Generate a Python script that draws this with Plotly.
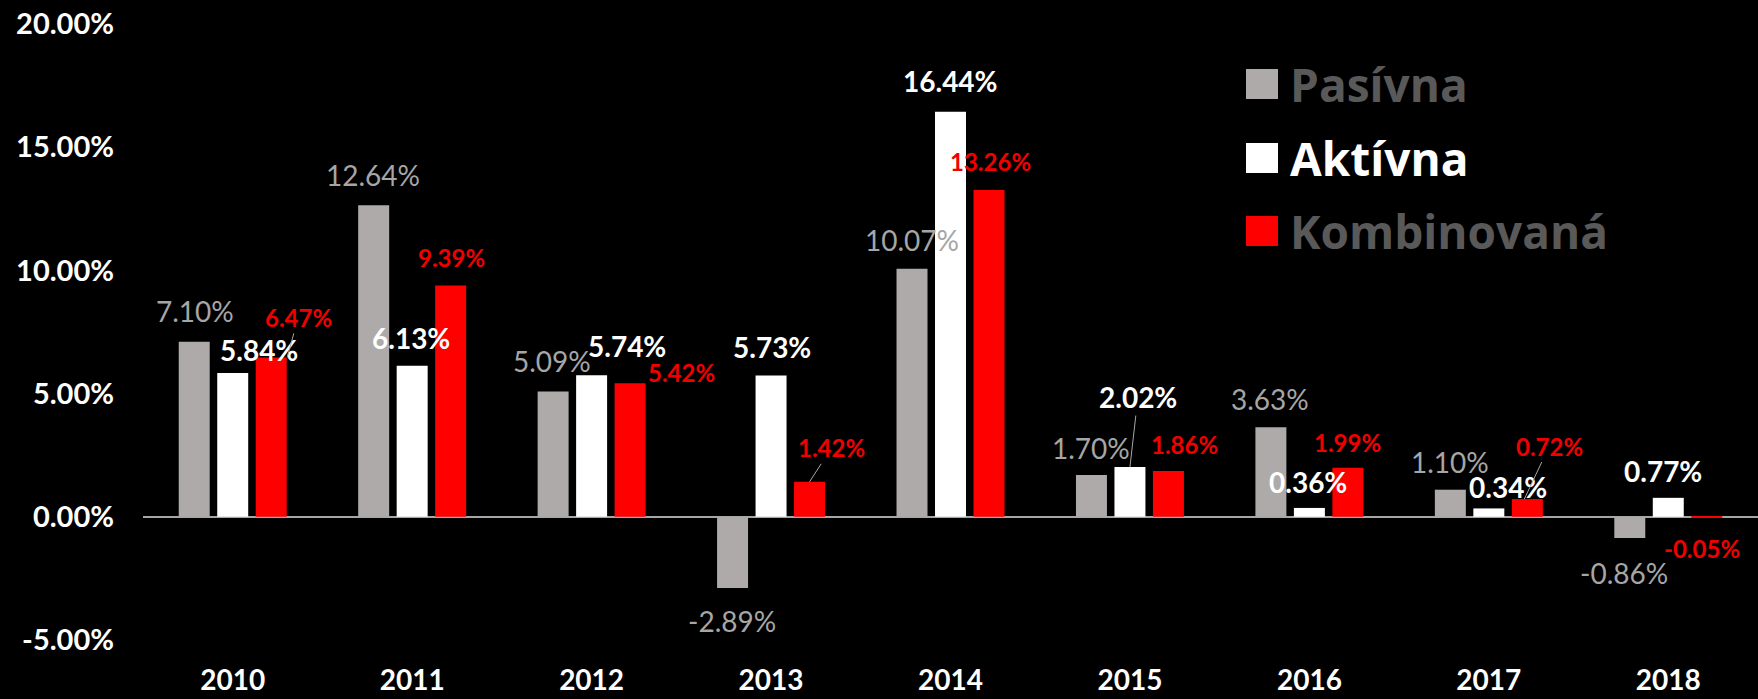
import plotly.graph_objects as go

# ---------------- data ----------------
years = ["2010", "2011", "2012", "2013", "2014", "2015", "2016", "2017", "2018"]
series_names = ["Pasívna", "Aktívna", "Kombinovaná"]
pasivna = [7.10, 12.64, 5.09, -2.89, 10.07, 1.70, 3.63, 1.10, -0.86]
aktivna = [5.84, 6.13, 5.74, 5.73, 16.44, 2.02, 0.36, 0.34, 0.77]
kombinovana = [6.47, 9.39, 5.42, 1.42, 13.26, 1.86, 1.99, 0.72, -0.05]
y_tick_values = [-5, 0, 5, 10, 15, 20]
y_tick_labels = ["-5.00%", "0.00%", "5.00%", "10.00%", "15.00%", "20.00%"]

# ---------------- styles ----------------
FONT = "Lato"
LEGEND_FONT = "Open Sans"
bar_colors = ["#AEAAAA", "#FFFFFF", "#FF0000"]
label_colors = ["#A6A6A6", "#FFFFFF", "#F20000"]
label_sizes = [28, 28, 24]
label_weights = ["normal", "bold", "bold"]
legend_text_colors = ["#595959", "#FFFFFF", "#595959"]

W, H = 1758, 699
ML, MR, MT, MB = 143, 0, 24, 59
PW, PH = W - ML - MR, H - MT - MB
BARGAP, BARGROUPGAP = 0.3565, 0.195
slot = PW / len(years) * (1 - BARGAP) / 3
offsets = [-slot, 0, slot]

# per-label placement: (dx, dy) pixel shift of label centre from bar end (dy up)
placement = [
    [(1, 31), (-1, 30), (-1, 30), (-1, -33), (0, 29), (0, 27), (-1, 28), (0, 28), (-6, -35)],
    [(26, 23), (-1, 28), (35, 29), (1, 29), (0, 31), None, (-1, 26), (19, 21), (-5, 27)],
    [None, (1, 28), (51, 11), None, (2, 29), (16, 26), (0, 25), None, (-5, -30)],
]
# leader-line labels: (series, index) -> (tip dx, text ax, text ay)
leaders = {
    (1, 5): (0, 8, -70),
    (2, 0): (16, 11, -40),
    (2, 3): (0, 22, -34),
    (2, 7): (-3, 25, -53),
}

def px_x(x):
    return (x - ML) / PW

def px_y(y):
    return (H - MB - y) / PH

series_values = [pasivna, aktivna, kombinovana]

fig = go.Figure()
for s, (name, vals) in enumerate(zip(series_names, series_values)):
    fig.add_trace(go.Bar(
        x=years, y=vals, name=name,
        marker=dict(color=bar_colors[s], line=dict(width=0)),
        showlegend=False, hoverinfo="skip",
    ))

annotations = []
for s, vals in enumerate(series_values):
    for i, v in enumerate(vals):
        font = dict(family=FONT, size=label_sizes[s], color=label_colors[s], weight=label_weights[s])
        text = f"{v:.2f}%"
        if (s, i) in leaders:
            tipdx, ax, ay = leaders[(s, i)]
            annotations.append(dict(
                x=i, y=v, xref="x", yref="y", text=text, font=font,
                showarrow=True, arrowhead=0, arrowwidth=1, arrowcolor="#A6A6A6",
                standoff=0, startstandoff=0, ax=ax, ay=ay,
                xshift=offsets[s] + tipdx,
            ))
        else:
            dx, dy = placement[s][i]
            annotations.append(dict(
                x=i, y=v, xref="x", yref="y", text=text, font=font,
                showarrow=False, xanchor="center", yanchor="middle",
                xshift=offsets[s] + dx, yshift=dy,
            ))

# legend built from series names
legend_sq = [(69, 99), (143, 173), (216, 246)]
shapes = []
for s, name in enumerate(series_names):
    y0, y1 = legend_sq[s]
    shapes.append(dict(type="rect", xref="paper", yref="paper",
                       x0=px_x(1246), x1=px_x(1278), y0=px_y(y1), y1=px_y(y0),
                       fillcolor=bar_colors[s], line=dict(width=0)))
    annotations.append(dict(
        x=px_x(1288), y=px_y((y0 + y1) / 2), xref="paper", yref="paper",
        text=name, showarrow=False, xanchor="left", yanchor="middle",
        font=dict(family=LEGEND_FONT, size=46, color=legend_text_colors[s], weight="bold"),
    ))

fig.update_layout(
    width=W, height=H,
    margin=dict(l=ML, r=MR, t=MT, b=MB, pad=0, autoexpand=False),
    paper_bgcolor="#000000", plot_bgcolor="#000000",
    barmode="group", bargap=BARGAP, bargroupgap=BARGROUPGAP,
    annotations=annotations, shapes=shapes,
    font=dict(family=FONT, color="#FFFFFF"),
    xaxis=dict(
        type="category", range=[-0.5, len(years) - 0.5], automargin=False,
        showgrid=False, zeroline=False, showline=False, ticks="",
        tickfont=dict(family=FONT, size=28, color="#FFFFFF", weight="bold"),
        ticklabelstandoff=21,
    ),
    yaxis=dict(
        range=[-5, 20], tickvals=y_tick_values, ticktext=y_tick_labels, automargin=False,
        showgrid=False, showline=False, ticks="",
        zeroline=True, zerolinecolor="#A6A6A6", zerolinewidth=2,
        tickfont=dict(family=FONT, size=29, color="#FFFFFF", weight="bold"),
        ticklabelstandoff=28,
    ),
)

fig.write_html(
    "out.html",
    config={"displayModeBar": False},
    post_script="document.body.style.margin='0';document.body.style.background='#000';",
)
